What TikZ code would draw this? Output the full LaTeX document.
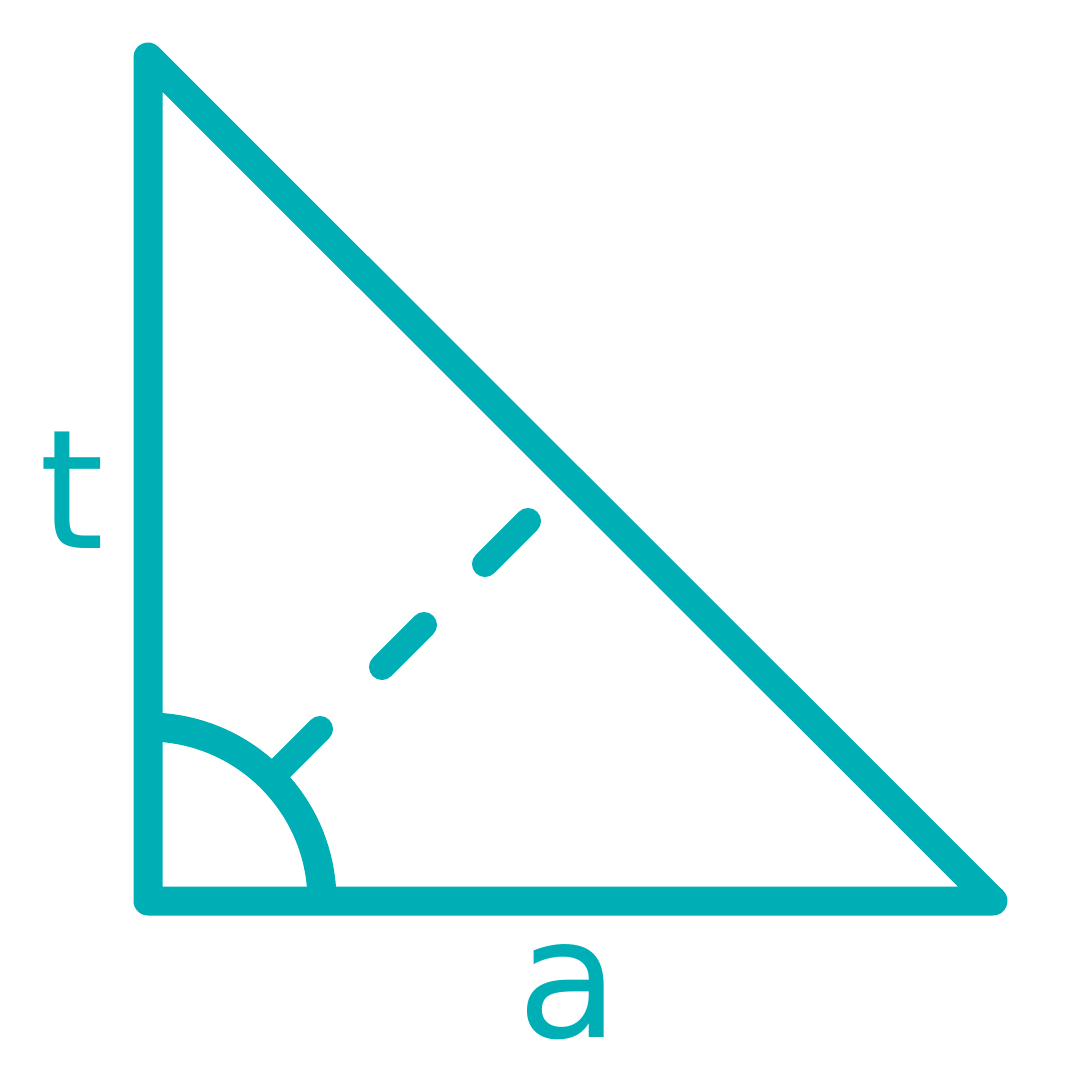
\documentclass[tikz,border=0pt]{standalone}
\usepackage{fontspec}
\setmainfont{DejaVu Sans}
\definecolor{teal}{HTML}{00AEB5}
\begin{document}
\begin{tikzpicture}[x=1pt,y=-1pt,
  edge/.style={draw=teal,line width=29pt,line join=round,line cap=round},
  anglemark/.style={draw=teal,line width=29pt},
  dashpart/.style={draw=teal,line width=26pt,line cap=round},
  lbl/.style={text=teal,font=\fontsize{166}{166}\selectfont,inner sep=0pt,anchor=base}]
\useasboundingbox (0,0) rectangle (1080,1080);
\coordinate (A) at (148,57);
\coordinate (B) at (148,901);
\coordinate (C) at (993,901);
% dashed bisector
\coordinate (d1s) at (148+124,901-124);
\coordinate (d1e) at (148+172,901-172);
\coordinate (d2s) at (148+234,901-234);
\coordinate (d2e) at (148+276,901-276);
\coordinate (d3s) at (148+337,901-337);
\coordinate (d3e) at (148+380,901-380);
\draw[dashpart] (d1s) -- (d1e);
\draw[dashpart] (d2s) -- (d2e);
\draw[dashpart] (d3s) -- (d3e);
% angle arc
\draw[anglemark] (148+174,901) arc[start angle=0,end angle=90,radius=174pt];
% triangle
\draw[edge] (A) -- (B) -- (C) -- cycle;
% labels
\node[lbl] (t) at (72,548) {t};
\node[lbl] (a) at (568,1037) {a};
\end{tikzpicture}
\end{document}
